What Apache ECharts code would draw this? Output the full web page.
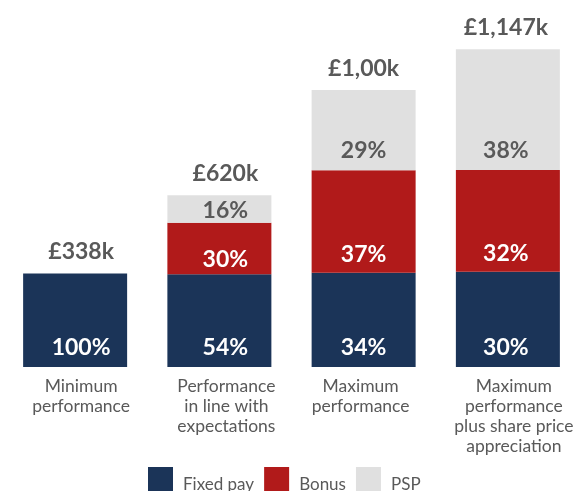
<!DOCTYPE html>
<html>
<head>
<meta charset="utf-8">
<style>
  html, body { margin: 0; padding: 0; background: #ffffff; }
  #chart { width: 581px; height: 491px; }
</style>
<script src="https://cdn.jsdelivr.net/npm/echarts@6/dist/echarts.min.js"></script>
</head>
<body>
<div id="chart"></div>
<script>
// Remuneration scenarios (£k) and each element's share of the total
const categories = [
  'Minimum\nperformance',
  'Performance\nin line with\nexpectations',
  'Maximum\nperformance',
  'Maximum\nperformance\nplus share price\nappreciation'
];
const fixedPay = [338, 335, 340, 344];
const bonus    = [0, 186, 370, 367];
const psp      = [0, 99, 290, 436];

const fixedPct = ['100%', '54%', '34%', '30%'];
const bonusPct = ['', '30%', '37%', '32%'];
const pspPct   = ['', '16%', '29%', '38%'];
const totalLabels = ['£338k', '£620k', '£1,00k', '£1,147k'];

const FONT = 'Lato, "Noto Sans", sans-serif';
const NAVY = '#1b3458';
const RED = '#b11a1a';
const GREY = '#e0e0e0';
const TEXT = '#595959';

// small horizontal nudges for the labels of each column
const labelNudge = [6, 6, 0, -2];
const catNudge = [6, 7, -3, 6];

function pctLabels(values, texts, color, dist) {
  return values.map((v, i) => ({
    value: v,
    label: {
      show: texts[i] !== '',
      formatter: texts[i],
      position: 'insideBottom',
      distance: dist[i],
      offset: [labelNudge[i], 0],
      color: color,
      fontFamily: FONT,
      fontWeight: 'bold',
      fontSize: 23
    }
  }));
}

const chart = echarts.init(document.getElementById('chart'), null, { renderer: 'canvas' });

chart.setOption({
  animation: false,
  grid: { left: 3, right: 1, top: 0, bottom: 124, containLabel: false },
  xAxis: {
    type: 'category',
    data: categories.map((c, i) => ({
      value: c,
      textStyle: { padding: catNudge[i] >= 0 ? [0, 0, 0, catNudge[i] * 2] : [0, -catNudge[i] * 2, 0, 0] }
    })),
    axisLine: { show: false },
    axisTick: { show: false },
    axisLabel: {
      interval: 0,
      margin: 9,
      color: TEXT,
      fontFamily: FONT,
      fontSize: 17.5,
      lineHeight: 20
    }
  },
  yAxis: {
    type: 'value',
    min: 0,
    max: 1325,
    show: false,
    splitLine: { show: false }
  },
  legend: {
    left: 148,
    top: 467,
    padding: 0,
    itemWidth: 25,
    itemHeight: 25,
    itemGap: 10,
    icon: 'rect',
    formatter: '{t|{name}}',
    textStyle: {
      color: TEXT, fontFamily: FONT, fontSize: 17,
      rich: { t: { color: TEXT, fontFamily: FONT, fontSize: 17, padding: [10, 0, 0, 5] } }
    },
    data: ['Fixed pay', 'Bonus', 'PSP']
  },
  series: [
    {
      name: 'Fixed pay', type: 'bar', stack: 'pay', barWidth: 104,
      itemStyle: { color: NAVY },
      data: pctLabels(fixedPay, fixedPct, '#ffffff', [8, 8, 8, 8])
    },
    {
      name: 'Bonus', type: 'bar', stack: 'pay', barWidth: 104,
      itemStyle: { color: RED },
      data: pctLabels(bonus, bonusPct, '#ffffff', [0, 3, 7, 7])
    },
    {
      name: 'PSP', type: 'bar', stack: 'pay', barWidth: 104,
      itemStyle: { color: GREY },
      data: pctLabels(psp, pspPct, TEXT, [0, 1, 8, 8])
    },
    {
      // zero-height carrier for the scenario totals above each column
      name: 'Total', type: 'bar', stack: 'pay', barWidth: 104,
      itemStyle: { color: 'transparent' },
      data: totalLabels.map((t, i) => ({
        value: 0,
        label: {
          show: true,
          position: 'top',
          distance: 10,
          formatter: t,
          offset: [labelNudge[i], 0],
          color: TEXT,
          fontFamily: FONT,
          fontWeight: 'bold',
          fontSize: 23
        }
      }))
    }
  ]
});
</script>
</body>
</html>
